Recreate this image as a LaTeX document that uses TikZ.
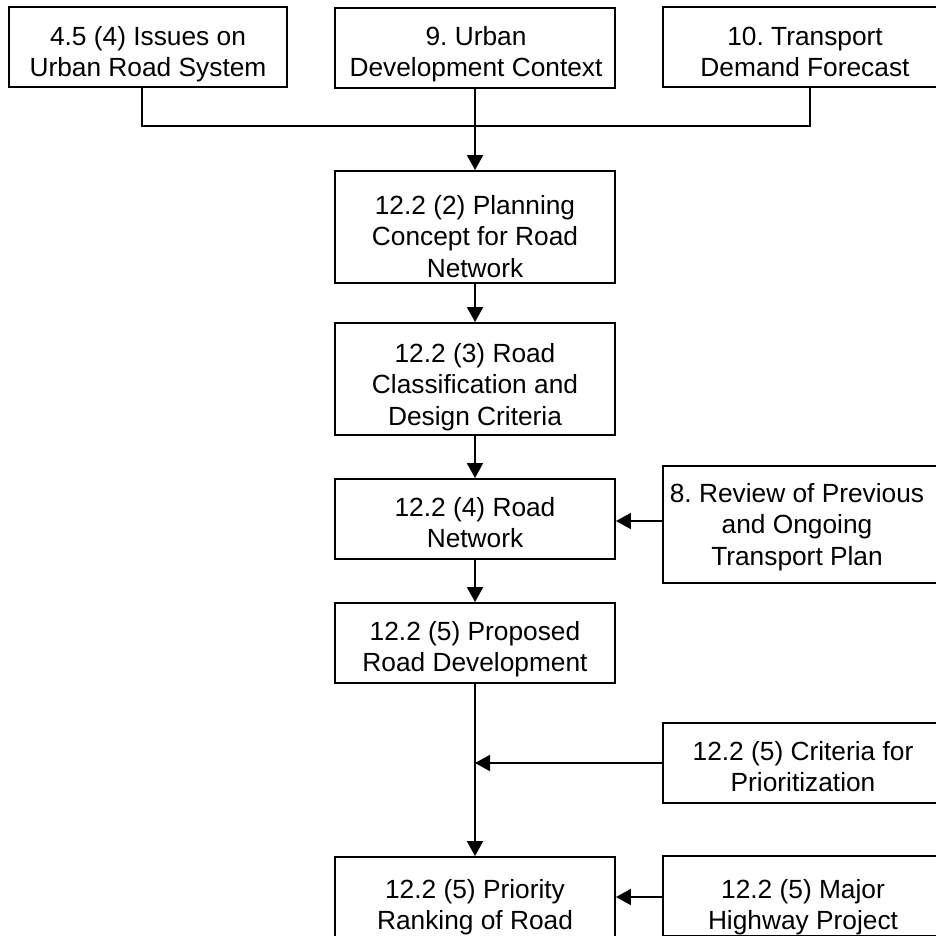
\documentclass[tikz,border=0pt]{standalone}
\usepackage{fontspec}
\setmainfont{Liberation Sans}
\usetikzlibrary{arrows.meta}
\frenchspacing
% multi-line caption whose baseline is the first line
\newcommand\boxtext[1]{\parbox[t]{320pt}{\centering #1}}
\begin{document}
\begin{tikzpicture}[x=1pt,y=-1pt,
  stage/.style={draw, line width=1.9pt, inner sep=0pt, minimum width=280pt, minimum height=80pt},
  lbl/.style={inner sep=0pt, anchor=base, font=\fontsize{26.3}{31.5}\selectfont},
  flow/.style={line width=1.9pt},
  feed/.style={flow, -{Triangle[length=15pt,width=16pt]}},
]
\useasboundingbox (0,0) rectangle (936,935);
\clip (0,0) rectangle (936,935);

% boxes
\node[stage, minimum width=278pt] (iss) at (148,47) {};
\node[stage] (urb) at (475,48) {};
\node[stage] (dem) at (803,47) {};
\node[stage, minimum height=112pt] (plan) at (475,227) {};
\node[stage, minimum height=112pt] (cls) at (475,379) {};
\node[stage] (net) at (475,519) {};
\node[stage, minimum height=117pt] (rev) at (803,524.5) {};
\node[stage] (prop) at (475,643) {};
\node[stage] (crit) at (803,763) {};
\node[stage] (rank) at (475,897) {};
\node[stage] (maj) at (803,896) {};

% captions
\node[lbl] (issT) at (148,45) {\boxtext{4.5 (4) Issues on\\Urban Road System}};
\node[lbl] (urbT) at (476,45) {\boxtext{9. Urban\\Development Context}};
\node[lbl] (demT) at (805,45) {\boxtext{10. Transport\\Demand Forecast}};
\node[lbl] (planT) at (475,214) {\boxtext{12.2 (2) Planning\\Concept for Road\\Network}};
\node[lbl] (clsT) at (475,362) {\boxtext{12.2 (3) Road\\Classification and\\Design Criteria}};
\node[lbl] (netT) at (475,516) {\boxtext{12.2 (4) Road\\Network}};
\node[lbl] (revT) at (797,502) {\boxtext{8. Review of Previous\\and Ongoing\\Transport Plan}};
\node[lbl] (propT) at (475,640) {\boxtext{12.2 (5) Proposed\\Road Development}};
\node[lbl] (critT) at (803,760) {\boxtext{12.2 (5) Criteria for\\Prioritization}};
\node[lbl] (rankT) at (475,898) {\boxtext{12.2 (5) Priority\\Ranking of Road}};
\node[lbl] (majT) at (803,898) {\boxtext{12.2 (5) Major\\Highway Project}};

% connectors
\coordinate (join) at (475,126);
\draw[flow] ([xshift=-6pt]iss.south) |- (join) -| ([xshift=7pt]dem.south);
\draw[feed] (urb.south) -- (plan.north);
\draw[feed] (plan.south) -- (cls.north);
\draw[feed] (cls.south) -- (net.north);
\draw[feed] ([yshift=-2pt]net.east -| rev.west) -- ([yshift=-2pt]net.east);
\draw[feed] (net.south) -- (prop.north);
\draw[feed] (prop.south) -- (rank.north);
\draw[feed] (crit.west) -- (crit.west -| prop.south);
\draw[feed] (maj.west |- rank.east) -- (rank.east);
\end{tikzpicture}
\end{document}
